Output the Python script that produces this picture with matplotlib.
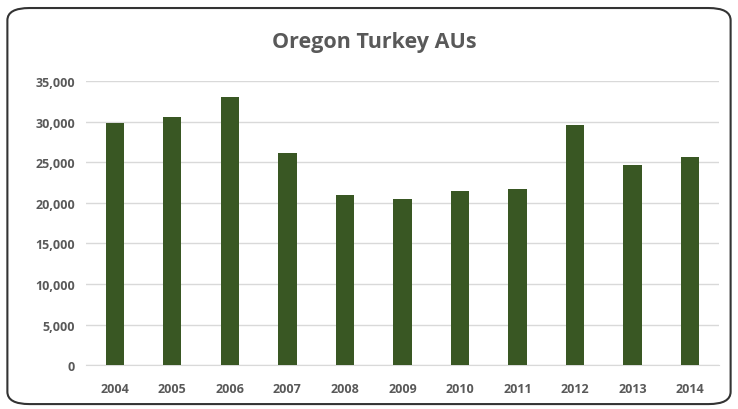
import matplotlib.pyplot as plt
from matplotlib.patches import FancyBboxPatch
from matplotlib.ticker import FuncFormatter

years = ["2004", "2005", "2006", "2007", "2008", "2009", "2010", "2011", "2012", "2013", "2014"]
aus = [29850, 30550, 33050, 26150, 21000, 20500, 21450, 21700, 29600, 24700, 25650]

fig = plt.figure(figsize=(7.38, 4.10), dpi=100)
ax = fig.add_axes([0.1165, 0.107, 0.8575, 0.693])

ax.bar(years, aus, width=0.32, color="#395723", zorder=3)
ax.set_ylim(0, 35000)
ax.set_xlim(-0.5, len(years) - 0.5)
ax.set_yticks(range(0, 35001, 5000))
ax.yaxis.set_major_formatter(FuncFormatter(lambda v, p: f"{int(v):,}"))
ax.grid(axis="y", color="#d9d9d9", linewidth=1, zorder=0)

for s in ["top", "right", "left"]:
    ax.spines[s].set_visible(False)
ax.spines["bottom"].set_color("#d9d9d9")
ax.tick_params(length=0, labelsize=9, labelcolor="#595959", pad=8)
ax.tick_params(axis="x", pad=12)
for lbl in ax.get_xticklabels() + ax.get_yticklabels():
    lbl.set_fontfamily("Open Sans")
    lbl.set_fontweight("bold")

fig.text(0.507, 0.897, "Oregon Turkey AUs", ha="center", va="center",
         fontsize=15.5, color="#595959", fontfamily="Open Sans", fontweight="bold")

frame = FancyBboxPatch((0.01, 0.012), 0.98, 0.966, boxstyle="round,pad=0,rounding_size=0.03",
                       transform=fig.transFigure, fill=False, edgecolor="#333333", linewidth=1.5)
fig.patches.append(frame)

fig.savefig("out.png", dpi=100)
